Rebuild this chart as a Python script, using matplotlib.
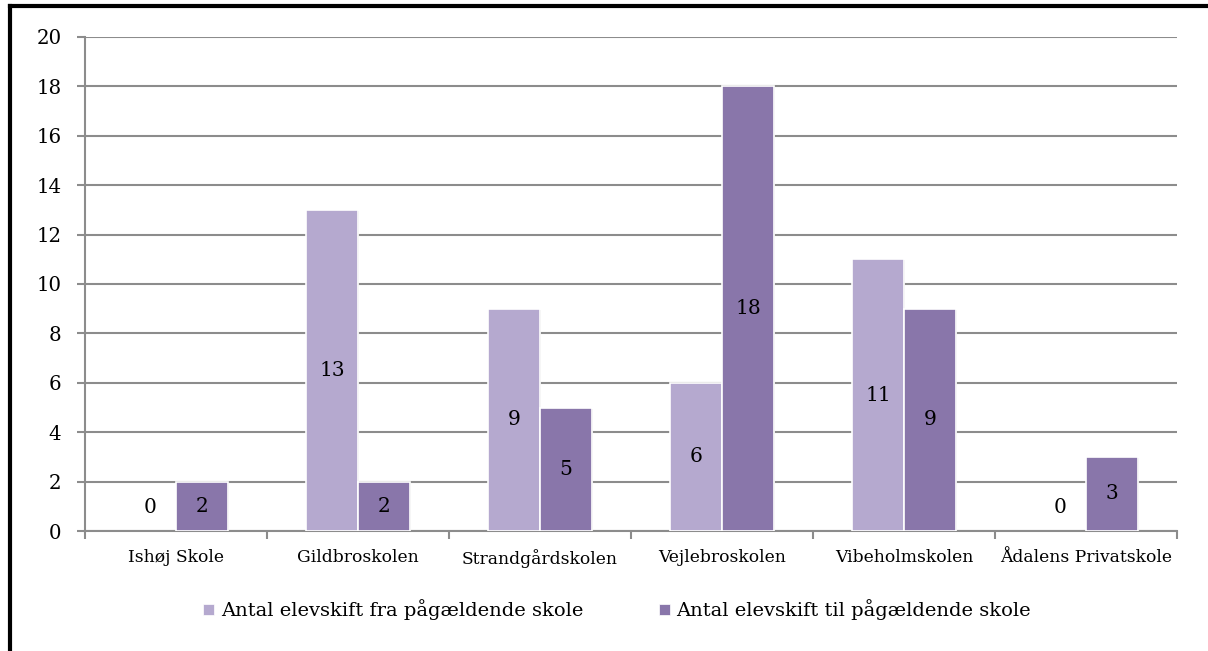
import numpy as np
import matplotlib
matplotlib.use('Agg')
import matplotlib.pyplot as plt
import matplotlib.patheffects as pe
from matplotlib.lines import Line2D
from matplotlib.patches import Patch

# data
skoler = ['Ishøj Skole', 'Gildbroskolen', 'Strandgårdskolen', 'Vejlebroskolen',
          'Vibeholmskolen', 'Ådalens Privatskole']
fra = [0, 13, 9, 6, 11, 0]
til = [2, 2, 5, 18, 9, 3]
serie_navne = ['Antal elevskift fra pågældende skole',
               'Antal elevskift til pågældende skole']

c_fra = '#B5A9CF'
c_til = '#8976AA'
grid_c = '#8C8C8C'

plt.rcParams['font.family'] = ['DejaVu Serif']

fig = plt.figure(figsize=(12.08, 6.51), dpi=100)
ax = fig.add_axes([0.0704, 0.1843, 0.9039, 0.7589])

x = np.arange(len(skoler))
w = 0.286
shadow = [pe.SimplePatchShadow(offset=(0.8, -0.8), shadow_rgbFace='#999999', alpha=0.5), pe.Normal()]
handles = []
for xs, vals, col, nm in [(x - w/2, fra, c_fra, serie_navne[0]), (x + w/2, til, c_til, serie_navne[1])]:
    b = ax.bar(xs, vals, w, color=col, edgecolor='white', linewidth=1.2, zorder=3,
               path_effects=shadow)
    for p, v in zip(b.patches, vals):
        if v == 0:
            p.set_visible(False)
    handles.append(Patch(facecolor=col, edgecolor='white', linewidth=0.5, label=nm))
    for xi, v in zip(xs, vals):
        yl = v/2 if v > 0 else 0.95
        ax.text(xi, yl, str(v), ha='center', va='center', fontsize=14.5, zorder=4)

ax.set_xlim(-0.5, len(skoler) - 0.5)
ax.set_ylim(0, 20)
ax.set_yticks(np.arange(0, 21, 2))
ax.set_xticks(x)
ax.set_xticklabels(skoler, fontsize=12.3)
ax.set_xticks(np.arange(-0.5, len(skoler), 1), minor=True)
ax.tick_params(axis='x', which='major', length=0, pad=13)
ax.tick_params(axis='x', which='minor', length=6, color=grid_c, width=1.5)
ax.tick_params(axis='y', length=6, color=grid_c, width=1.5, labelsize=14.2, pad=11)
ax.grid(axis='y', color=grid_c, linewidth=1.5, zorder=0)
for s in ['top', 'right']:
    ax.spines[s].set_visible(False)
for s in ['left', 'bottom']:
    ax.spines[s].set_color(grid_c)
    ax.spines[s].set_linewidth(1.5)

leg = fig.legend(handles=handles, loc='center', bbox_to_anchor=(0.511, 0.063), ncol=2,
                 frameon=False, fontsize=14.0, handlelength=0.55, handleheight=0.55,
                 handletextpad=0.35, columnspacing=3.9)

# border of the frame
fig.add_artist(Line2D([0.0083, 1.0], [0.9915, 0.9915], color='black', linewidth=3,
                      transform=fig.transFigure))
fig.add_artist(Line2D([0.0083, 0.0083], [0.0, 0.9915], color='black', linewidth=3,
                      transform=fig.transFigure))

fig.savefig('out.png', dpi=100)
